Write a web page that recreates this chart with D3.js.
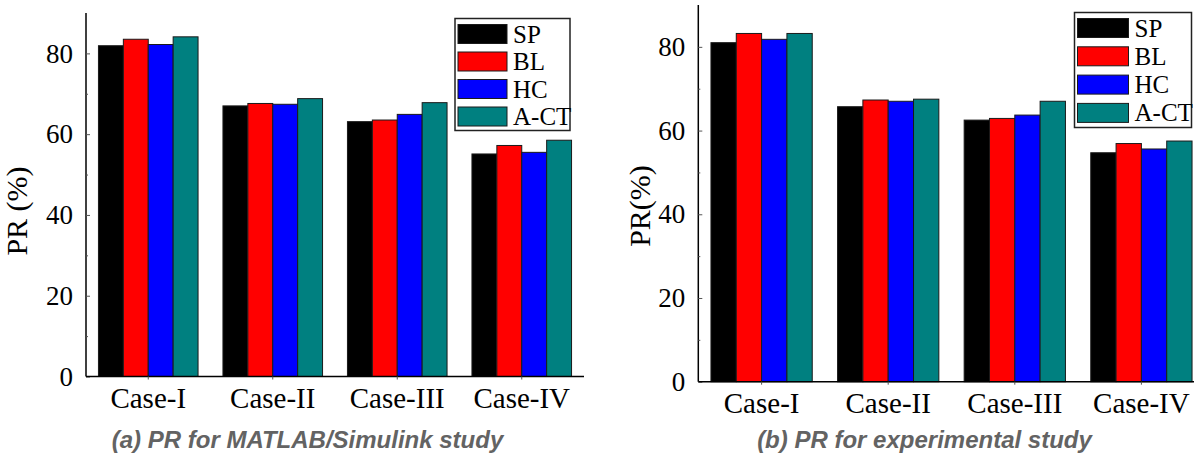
<!DOCTYPE html>
<html>
<head>
<meta charset="utf-8">
<script src="https://cdn.jsdelivr.net/npm/d3@7"></script>
<style>
  body { margin: 0; background: #fff; }
  svg { display: block; }
</style>
</head>
<body>
<div id="chart"></div>
<script>
// data
var cases = ["Case-I", "Case-II", "Case-III", "Case-IV"];
var methods = ["SP", "BL", "HC", "A-CT"];
var colors = ["#000000", "#ff0000", "#0000ff", "#008080"];

// (a) MATLAB/Simulink study
var simSP  = [81.9, 67.0, 63.1, 55.1];
var simBL  = [83.5, 67.6, 63.5, 57.2];
var simHC  = [82.2, 67.4, 64.9, 55.5];
var simACT = [84.1, 68.8, 67.8, 58.5];

// (b) experimental study
var expSP  = [81.0, 65.7, 62.5, 54.7];
var expBL  = [83.2, 67.3, 62.9, 56.9];
var expHC  = [81.8, 67.0, 63.7, 55.6];
var expACT = [83.2, 67.5, 67.0, 57.5];

var yTicks = [0, 20, 40, 60, 80];
var yMinor = [10, 30, 50, 70];

var serif = "'Liberation Serif', 'Times New Roman', serif";

var svg = d3.select("#chart").append("svg")
    .attr("width", 1194).attr("height", 456);

function drawPanel(cfg, series) {
    var g = svg.append("g");

    var x0 = d3.scaleBand().domain(cases)
        .range([cfg.left, cfg.right])
        .paddingInner(0.2).paddingOuter(0.1);
    var x1 = d3.scaleBand().domain(methods).range([0, x0.bandwidth()]);
    var y = d3.scaleLinear().domain([0, 90]).range([cfg.bottom, cfg.top]);

    // bars
    var rows = [];
    cases.forEach(function(c, i) {
        methods.forEach(function(m, j) {
            rows.push({ c: c, m: m, j: j, v: series[j][i] });
        });
    });

    g.selectAll(".bar")
        .data(rows)
        .enter()
        .append("rect")
        .attr("class", "bar")
        .attr("x", function(d) { return x0(d.c) + x1(d.m); })
        .attr("y", function(d) { return y(d.v); })
        .attr("width", x1.bandwidth())
        .attr("height", function(d) { return y(0) - y(d.v); })
        .attr("fill", function(d) { return colors[d.j]; })
        .attr("stroke", "#1a1a1a")
        .attr("stroke-width", 1);

    // y axis (ticks pointing in)
    var yAxis = g.append("g")
        .attr("transform", "translate(" + cfg.left + ",0)")
        .attr("font-family", serif)
        .call(d3.axisLeft(y).tickValues(yTicks).tickSize(-4).tickPadding(13));
    yAxis.attr("font-family", serif).attr("font-size", 27);
    yAxis.select(".domain").attr("d", "M0," + cfg.top + "V" + y(0)).attr("stroke", "#000").attr("stroke-width", 1.5);
    yAxis.selectAll(".tick line").attr("stroke", "#555");
    yAxis.selectAll("text").attr("fill", "#000");

    g.append("g")
        .attr("transform", "translate(" + cfg.left + ",0)")
        .call(d3.axisLeft(y).tickValues(yMinor).tickSize(-2).tickFormat(""))
        .call(function(a) { a.select(".domain").remove(); a.selectAll("line").attr("stroke", "#555"); });

    // x axis
    var xAxis = g.append("g")
        .attr("transform", "translate(0," + y(0) + ")")
        .call(d3.axisBottom(x0).tickSize(3).tickPadding(8));
    xAxis.attr("font-family", serif).attr("font-size", 29);
    xAxis.select(".domain").attr("d", "M" + cfg.left + ",0H" + cfg.right).attr("stroke", "#000").attr("stroke-width", 1.5);
    xAxis.selectAll(".tick line").attr("stroke", "#555");
    xAxis.selectAll("text").attr("fill", "#000");

    // y label
    g.append("text")
        .attr("transform", "translate(" + cfg.ylabX + "," + cfg.ylabY + ") rotate(-90)")
        .attr("text-anchor", "middle")
        .attr("font-family", serif)
        .attr("font-size", 30)
        .text(cfg.ylabel);

    // legend
    var lg = g.append("g").attr("transform", "translate(" + cfg.legX + "," + cfg.legY + ")");
    lg.append("rect")
        .attr("x", 0).attr("y", 0)
        .attr("width", cfg.legW).attr("height", cfg.legH)
        .attr("fill", "#fff").attr("stroke", "#222").attr("stroke-width", 1.5);
    lg.selectAll(".sw")
        .data(methods)
        .enter()
        .append("rect")
        .attr("class", "sw")
        .attr("x", 3)
        .attr("y", function(d, i) { return 6 + i * cfg.legStep; })
        .attr("width", cfg.swW).attr("height", 19)
        .attr("fill", function(d, i) { return colors[i]; })
        .attr("stroke", "#1a1a1a");
    lg.selectAll(".lt")
        .data(methods)
        .enter()
        .append("text")
        .attr("class", "lt")
        .attr("x", cfg.swW + 9)
        .attr("y", function(d, i) { return 24 + i * cfg.legStep; })
        .attr("font-family", serif)
        .attr("font-size", 25)
        .text(function(d) { return d; });

    // caption
    svg.append("text")
        .attr("x", cfg.capX).attr("y", 448)
        .attr("text-anchor", "middle")
        .attr("font-family", "'Liberation Sans', Arial, sans-serif")
        .attr("font-weight", "bold")
        .attr("font-style", "italic")
        .attr("font-size", 24)
        .attr("fill", "#636363")
        .text(cfg.caption);
}

drawPanel({
    left: 86, right: 584, top: 13, bottom: 376.5,
    ylabel: "PR (%)", ylabX: 27, ylabY: 211,
    legX: 455, legY: 18.5, legW: 115, legH: 112, legStep: 27.5, swW: 49,
    capX: 307.5, caption: "(a) PR for MATLAB/Simulink study"
}, [simSP, simBL, simHC, simACT]);

drawPanel({
    left: 698.3, right: 1204.7, top: 5, bottom: 381.7,
    ylabel: "PR(%)", ylabX: 650, ylabY: 206,
    legX: 1074.5, legY: 12.5, legW: 117, legH: 115, legStep: 28.3, swW: 51,
    capX: 924.5, caption: "(b) PR for experimental study"
}, [expSP, expBL, expHC, expACT]);
</script>
</body>
</html>
